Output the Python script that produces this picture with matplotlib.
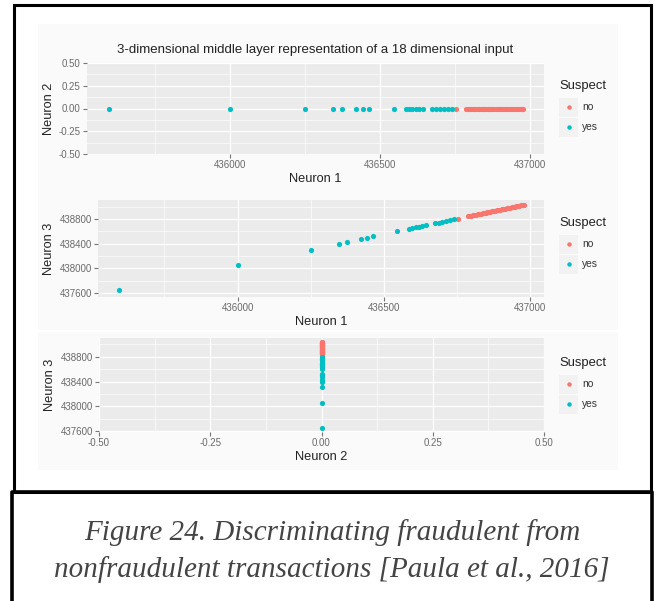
import matplotlib
matplotlib.use('Agg')
import matplotlib.pyplot as plt
from matplotlib.lines import Line2D
from matplotlib.patches import Rectangle

# data
neuron1_yes = [435595, 436000, 436250, 436345, 436375, 436420, 436442, 436463, 436546,
               436586, 436597, 436608, 436619, 436630, 436644, 436673, 436687, 436700,
               436713, 436727, 436740]
neuron3_yes = [437652, 438062, 438305, 438400, 438428, 438474, 438498, 438520, 438602,
               438642, 438652, 438664, 438675, 438686, 438700, 438729, 438743, 438756,
               438769, 438783, 438796]
neuron2_yes = [0.0] * len(neuron1_yes)

neuron1_no = [436753, 436787, 436793, 436798, 436804, 436809, 436815, 436820, 436826,
              436831, 436837, 436842, 436848, 436853, 436859, 436864, 436870, 436875,
              436881, 436886, 436892, 436897, 436903, 436908, 436914, 436919, 436925,
              436930, 436936, 436941, 436947, 436952, 436958, 436963, 436969, 436974,
              436978]
neuron3_no = [438809, 438843, 438849, 438854, 438860, 438865, 438871, 438876, 438882,
              438887, 438893, 438898, 438904, 438909, 438915, 438920, 438926, 438931,
              438937, 438942, 438948, 438953, 438959, 438964, 438970, 438975, 438981,
              438986, 438992, 438997, 439003, 439008, 439014, 439019, 439025, 439030,
              439034]
neuron2_no = [0.0] * len(neuron1_no)

suspect_levels = ['no', 'yes']
title = '3-dimensional middle layer representation of a 18 dimensional input'
caption = ('Figure 24. Discriminating fraudulent from\n'
           'nonfraudulent transactions [Paula et al., 2016]')

x1_ticks = [436000, 436500, 437000]
x1_minor = [435750, 436250, 436750]
y2_ticks = [-0.5, -0.25, 0.0, 0.25, 0.5]
y2_minor = [-0.375, -0.125, 0.125, 0.375]
y3_ticks = [437600, 438000, 438400, 438800]
y3_minor = [437800, 438200, 438600, 439000]

COL_NO = '#F8766D'
COL_YES = '#00BFC4'
W, H = 654, 601
FONT = 'Liberation Sans'

plt.rcParams['font.family'] = FONT

fig = plt.figure(figsize=(W / 100, H / 100), dpi=100)


def fx(px):
    return px / W


def fy(py):
    return 1 - py / H


def panel(left, top, right, bottom):
    ax = fig.add_axes([fx(left), fy(bottom), (right - left) / W, (bottom - top) / H])
    ax.set_facecolor('#EBEBEB')
    for s in ax.spines.values():
        s.set_visible(False)
    ax.tick_params(axis='both', which='major', length=3, width=0.8, color='#777777',
                   labelsize=7, labelcolor='#6a6a6a', pad=1.5)
    ax.tick_params(axis='both', which='minor', length=0)
    ax.grid(True, which='major', color='white', lw=0.9)
    ax.grid(True, which='minor', color='white', lw=0.45)
    ax.set_axisbelow(True)
    return ax


def legend(px, py_title):
    fig.text(fx(px), fy(py_title), 'Suspect', fontsize=9.4, color='#222222',
             ha='left', va='center')
    for i, (lab, col) in enumerate(zip(suspect_levels, [COL_NO, COL_YES])):
        yc = py_title + 21 + i * 20
        fig.add_artist(Rectangle((fx(px), fy(yc + 9.5)), 19 / W, 19 / H,
                                 transform=fig.transFigure, fc='#F2F2F2', ec='none'))
        fig.add_artist(Line2D([fx(px + 10)], [fy(yc)], marker='o', ms=3.2, color=col,
                              mec='none', transform=fig.transFigure))
        fig.text(fx(px + 23), fy(yc), lab, fontsize=7.4, color='#333333',
                 ha='left', va='center')


# faint backgrounds of the pasted ggplot images
for (l, t, r, b) in [(38, 24, 618, 196), (38, 192, 618, 330), (38, 332, 618, 470)]:
    fig.add_artist(Rectangle((fx(l), fy(b)), (r - l) / W, (b - t) / H,
                             transform=fig.transFigure, fc='#FAFAFA', ec='none', zorder=-5))

# panel 1: neuron 1 vs neuron 2
ax1 = panel(87, 63, 544, 154)
ax1.scatter(neuron1_no, neuron2_no, s=14, color=COL_NO, lw=0, zorder=3)
ax1.scatter(neuron1_yes, neuron2_yes, s=14, color=COL_YES, lw=0, zorder=3)
ax1.set_xlim(435523, 437047)
ax1.set_ylim(-0.5, 0.5)
ax1.set_xticks(x1_ticks)
ax1.set_xticks(x1_minor, minor=True)
ax1.set_yticks(y2_ticks)
ax1.set_yticks(y2_minor, minor=True)
ax1.set_yticklabels(['%.2f' % v for v in y2_ticks])
ax1.set_xlabel('Neuron 1', fontsize=9.2, color='#222222', labelpad=2)
ax1.set_ylabel('Neuron 2', fontsize=9.2, color='#222222', labelpad=3)
ax1.set_title(title, fontsize=9.5, color='#222222', pad=7)
legend(559, 86)

# panel 2: neuron 1 vs neuron 3
ax2 = panel(98, 200, 544, 297)
ax2.scatter(neuron1_no, neuron3_no, s=14, color=COL_NO, lw=0, zorder=3)
ax2.scatter(neuron1_yes, neuron3_yes, s=14, color=COL_YES, lw=0, zorder=3)
ax2.set_xlim(435523, 437047)
ax2.set_ylim(437535, 439110)
ax2.set_xticks(x1_ticks)
ax2.set_xticks(x1_minor, minor=True)
ax2.set_yticks(y3_ticks)
ax2.set_yticks(y3_minor, minor=True)
ax2.set_xlabel('Neuron 1', fontsize=9.2, color='#222222', labelpad=2)
ax2.set_ylabel('Neuron 3', fontsize=9.2, color='#222222', labelpad=3)
legend(559, 223)

# panel 3: neuron 2 vs neuron 3
ax3 = panel(99, 338, 544, 432)
ax3.scatter(neuron2_no, neuron3_no, s=14, color=COL_NO, lw=0, zorder=3)
ax3.scatter(neuron2_yes, neuron3_yes, s=14, color=COL_YES, lw=0, zorder=3)
ax3.set_xlim(-0.5, 0.5)
ax3.set_ylim(437590, 439100)
ax3.set_xticks(y2_ticks)
ax3.set_xticks(y2_minor, minor=True)
ax3.set_xticklabels(['%.2f' % v for v in y2_ticks])
ax3.set_yticks(y3_ticks)
ax3.set_yticks(y3_minor, minor=True)
ax3.set_xlabel('Neuron 2', fontsize=9.2, color='#222222', labelpad=2)
ax3.set_ylabel('Neuron 3', fontsize=9.2, color='#222222', labelpad=3)
legend(559, 363)

# frames around the chart and the caption
lw = 2.2
fig.add_artist(Rectangle((fx(14), fy(492)), (651 - 14) / W, (492 - 5) / H,
                         transform=fig.transFigure, fc='none', ec='black', lw=lw))
fig.add_artist(Line2D([fx(12), fx(12), fx(652), fx(652)], [fy(601), fy(492), fy(492), fy(601)],
                      transform=fig.transFigure, color='black', lw=lw + 0.4))

fig.text(fx(332), fy(551), caption, family='Liberation Serif', style='italic',
         fontsize=21, color='#444444', ha='center', va='center', linespacing=1.45)

fig.savefig('out.png', dpi=100)
